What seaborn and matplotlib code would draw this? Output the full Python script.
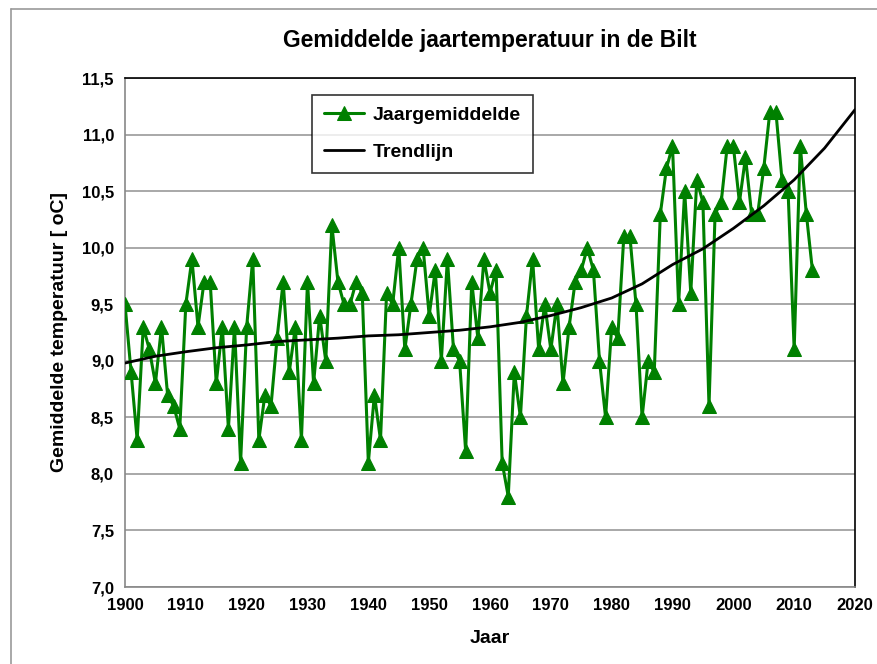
import numpy as np
import pandas as pd
import matplotlib
matplotlib.use("Agg")
import matplotlib.pyplot as plt
import seaborn as sns

# yearly mean temperature De Bilt
years = list(range(1900, 2014))
temps = [
    9.5, 8.9, 8.3, 9.3, 9.1, 8.8, 9.3, 8.7, 8.6, 8.4,   # 1900-1909
    9.5, 9.9, 9.3, 9.7, 9.7, 8.8, 9.3, 8.4, 9.3, 8.1,   # 1910-1919
    9.3, 9.9, 8.3, 8.7, 8.6, 9.2, 9.7, 8.9, 9.3, 8.3,   # 1920-1929
    9.7, 8.8, 9.4, 9.0, 10.2, 9.7, 9.5, 9.5, 9.7, 9.6,  # 1930-1939
    8.1, 8.7, 8.3, 9.6, 9.5, 10.0, 9.1, 9.5, 9.9, 10.0, # 1940-1949
    9.4, 9.8, 9.0, 9.9, 9.1, 9.0, 8.2, 9.7, 9.2, 9.9,   # 1950-1959
    9.6, 9.8, 8.1, 7.8, 8.9, 8.5, 9.4, 9.9, 9.1, 9.5,   # 1960-1969
    9.1, 9.5, 8.8, 9.3, 9.7, 9.8, 10.0, 9.8, 9.0, 8.5,  # 1970-1979
    9.3, 9.2, 10.1, 10.1, 9.5, 8.5, 9.0, 8.9, 10.3, 10.7,  # 1980-1989
    10.9, 9.5, 10.5, 9.6, 10.6, 10.4, 8.6, 10.3, 10.4, 10.9,  # 1990-1999
    10.9, 10.4, 10.8, 10.3, 10.3, 10.7, 11.2, 11.2, 10.6, 10.5,  # 2000-2009
    9.1, 10.9, 10.3, 9.8,                                # 2010-2013
]

# trend line as drawn in the chart
trend_years = list(range(1900, 2021, 5))
trend_vals = [8.98, 9.04, 9.08, 9.115, 9.14, 9.17, 9.185, 9.20, 9.22, 9.23,
              9.25, 9.27, 9.30, 9.34, 9.40, 9.47, 9.555, 9.68, 9.85, 9.99,
              10.17, 10.37, 10.60, 10.88, 11.22]

df = pd.DataFrame({"Jaar": years, "Temp": temps})
df_trend = pd.DataFrame({"Jaar": trend_years, "Temp": trend_vals})

sns.set_style("white")
plt.rcParams["font.family"] = ["Liberation Sans", "DejaVu Sans"]
plt.rcParams["font.weight"] = "bold"
plt.rcParams["text.color"] = "black"
plt.rcParams["axes.labelcolor"] = "black"
plt.rcParams["xtick.color"] = "black"
plt.rcParams["ytick.color"] = "black"

fig = plt.figure(figsize=(8.78, 6.64), dpi=100)
ax = fig.add_axes([125 / 878, 1 - 587 / 664, 730 / 878, 509 / 664])

sns.lineplot(data=df, x="Jaar", y="Temp", ax=ax, color="#008000", linewidth=2.2,
             marker="^", markersize=9.5, markeredgecolor="#008000",
             label="Jaargemiddelde", zorder=3)
sns.lineplot(data=df_trend, x="Jaar", y="Temp", ax=ax, color="black", linewidth=2.0,
             label="Trendlijn", zorder=4)

ax.set_xlim(1900, 2020)
ax.set_ylim(7.0, 11.5)
ax.set_xticks(range(1900, 2021, 10))
yt = np.arange(7.0, 11.51, 0.5)
ax.set_yticks(yt)
ax.set_yticklabels([f"{v:.1f}".replace(".", ",") for v in yt])
ax.tick_params(axis="both", labelsize=12, direction="out", length=5, width=1,
               color="#888888", labelcolor="black", pad=3)
for lab in ax.get_xticklabels() + ax.get_yticklabels():
    lab.set_fontweight("bold")

ax.yaxis.grid(True, color="#999999", linewidth=1.2)
ax.xaxis.grid(False)
ax.set_axisbelow(True)
for side in ["top", "right"]:
    ax.spines[side].set_color("black")
    ax.spines[side].set_linewidth(1.2)
for side in ["left", "bottom"]:
    ax.spines[side].set_color("#888888")
    ax.spines[side].set_linewidth(1.2)

ax.set_xlabel("Jaar", fontsize=14, fontweight="bold", labelpad=12)
ax.set_ylabel("Gemiddelde temperatuur [ oC]", fontsize=14, fontweight="bold", labelpad=10)
ax.set_title("Gemiddelde jaartemperatuur in de Bilt", fontsize=16.5, fontweight="bold", pad=22)

leg = ax.legend(loc="upper left", bbox_to_anchor=(0.256, 0.967), borderaxespad=0,
                fontsize=14, frameon=True, fancybox=False, edgecolor="black",
                borderpad=0.6, labelspacing=1.0, handlelength=2.1, handletextpad=0.45)
leg.get_frame().set_linewidth(1.2)
for t in leg.get_texts():
    t.set_fontweight("bold")

# outer chart frame (top and left edges visible)
fig.add_artist(plt.Line2D([11 / 878, 1], [1 - 9 / 664, 1 - 9 / 664], color="#999999",
                          linewidth=1.2, transform=fig.transFigure))
fig.add_artist(plt.Line2D([11 / 878, 11 / 878], [0, 1 - 9 / 664], color="#999999",
                          linewidth=1.2, transform=fig.transFigure))

fig.savefig("out.png", dpi=100)
